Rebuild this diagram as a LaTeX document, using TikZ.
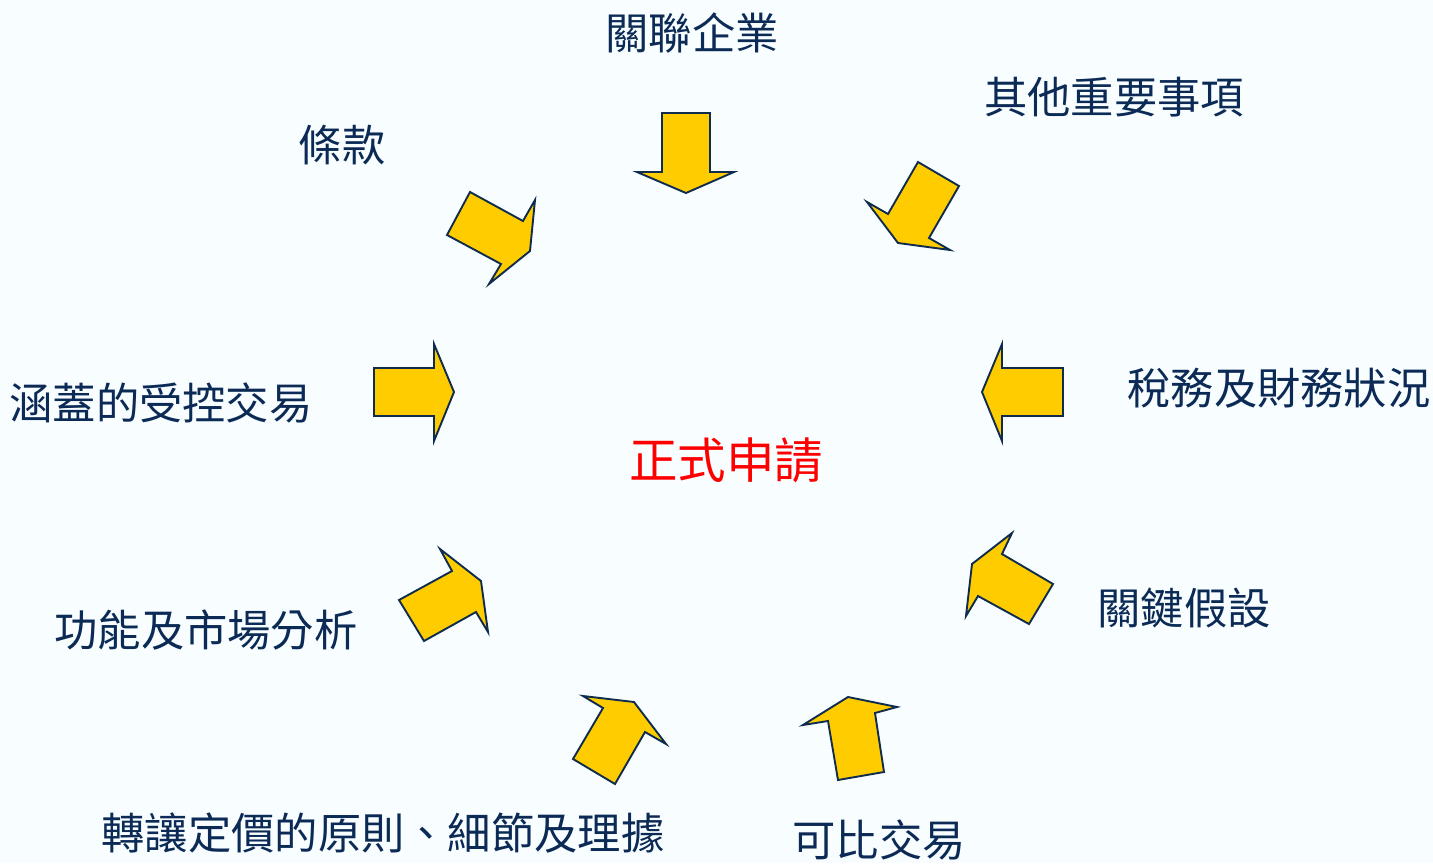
\documentclass[tikz,border=0pt]{standalone}
\usepackage{fontspec}
\setmainfont{Noto Sans CJK TC}
\definecolor{bgc}{HTML}{F8FEFF}
\definecolor{navy}{HTML}{0B2A55}
\definecolor{edge}{HTML}{0F2C4F}
\definecolor{gold}{HTML}{FFCC00}
\definecolor{redt}{HTML}{FF0000}
\tikzset{
  blockarrow/.style={draw=edge, fill=gold, line width=1.9pt, line join=miter},
  lbl/.style={text=navy, font=\fontsize{43.3}{50}\selectfont, inner sep=0pt, anchor=center},
  mainlbl/.style={text=redt, font=\fontsize{48.5}{56}\selectfont, inner sep=0pt, anchor=center}
}
\begin{document}
\begin{tikzpicture}[x=1pt,y=-1pt]
\fill[bgc] (0,0) rectangle (1433,863);
\useasboundingbox (0,0) rectangle (1433,863);
% labels
\node[lbl] (top) at (692,33) {關聯企業};
\node[lbl] (tr) at (1114,97) {其他重要事項};
\node[lbl] (tl) at (342,145) {條款};
\node[lbl] (l) at (161,403) {涵蓋的受控交易};
\node[lbl] (r) at (1279,388) {稅務及財務狀況};
\node[mainlbl] (c) at (726,460) {正式申請};
\node[lbl] (br) at (1184,608) {關鍵假設};
\node[lbl] (bl) at (206,630) {功能及市場分析};
\node[lbl] (b1) at (383,833) {轉讓定價的原則、細節及理據};
\node[lbl] (b2) at (879,840) {可比交易};
% arrows
\draw[blockarrow] (662,113) -- (710,113) -- (710,172) -- (734,172) -- (686,193) -- (637,172) -- (662,172) -- cycle;
\draw[blockarrow] (470,192) -- (523,221) -- (535,200) -- (530,251) -- (489,284) -- (501,264) -- (447,235) -- cycle;
\draw[blockarrow] (918,162) -- (959,186) -- (929,238) -- (950,250) -- (898,243) -- (867,202) -- (888,214) -- cycle;
\draw[blockarrow] (374,368) -- (434,368) -- (434,344) -- (454,392) -- (434,441) -- (434,416) -- (374,416) -- cycle;
\draw[blockarrow] (1063,368) -- (1002,368) -- (1002,344) -- (982,392) -- (1002,441) -- (1002,416) -- (1063,416) -- cycle;
\draw[blockarrow] (440,549) -- (481,581) -- (488,632) -- (476,612) -- (424,641) -- (399,600) -- (452,571) -- cycle;
\draw[blockarrow] (1012,533) -- (1002,554) -- (1053,584) -- (1029,624) -- (978,596) -- (966,616) -- (972,564) -- cycle;
\draw[blockarrow] (583,696) -- (634,702) -- (666,744) -- (645,732) -- (615,784) -- (573,759) -- (603,708) -- cycle;
\draw[blockarrow] (848,697) -- (897,707) -- (875,713) -- (884,772) -- (838,780) -- (828,721) -- (803,725) -- cycle;
\end{tikzpicture}
\end{document}
